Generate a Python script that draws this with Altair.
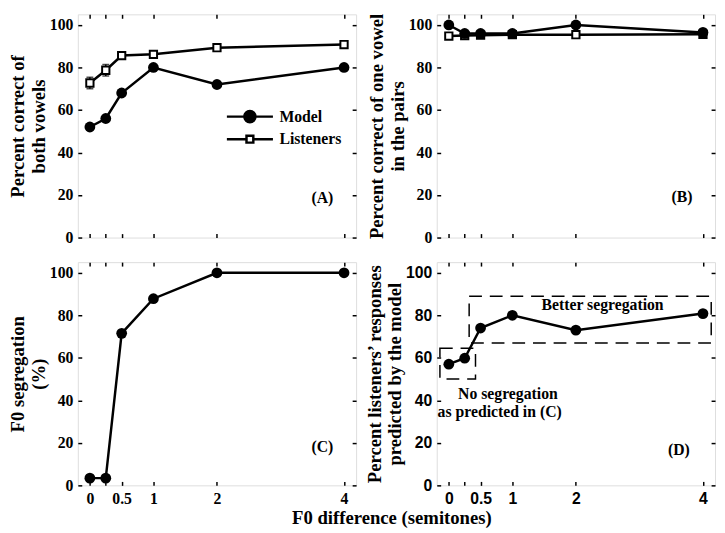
import altair as alt
import pandas as pd

# ---------------- data ----------------
f0_diff = [0, 0.25, 0.5, 1, 2, 4]
a_model = [52, 56, 68, 80, 72, 80]
a_listeners = [72.7, 78.7, 85.6, 86.2, 89.3, 90.8]
a_listeners_err = [2.7, 2.7, 1.0, 0.8, 0.8, 0.8]
b_model = [100, 96, 96, 96, 100, 96.5]
b_listeners = [94.8, 95.0, 95.2, 95.4, 95.4, 95.6]
c_segregation = [3.4, 3.4, 71.5, 87.8, 100, 100]
d_predicted = [57, 59.8, 74, 80, 73, 80.8]

panel_tags = ["(A)", "(B)", "(C)", "(D)"]
series_names = ["Model", "Listeners"]
y_ticks = [0, 20, 40, 60, 80, 100]

# annotation text and dashed boxes for panel D (data coordinates)
d_notes = ["Better segregation", "No segregation", "as predicted in (C)"]
d_note_x = [2.42, 0.93, 0.80]
d_note_y = [84.8, 43.0, 34.7]
d_box_x1 = [-0.14, 0.32]
d_box_x2 = [0.42, 4.13]
d_box_y1 = [50, 67]
d_box_y2 = [64.5, 89]
tag_x = [3.66, 3.67, 3.66, 3.62]
tag_y = [18.8, 19.0, 18.0, 16.5]

# ---------------- style ----------------
SERIF = "Liberation Serif"
SANS = "Liberation Sans"
W, H = 283, 227
XDOM = [-0.19, 4.19]
YDOM = [0, 105]
xs = alt.Scale(domain=XDOM, nice=False, zero=False)
ys = alt.Scale(domain=YDOM, nice=False, zero=False)

PATH_M = ("M-2.23,0L-0.54,0M0.54,0A0.54,0.54,0,1,1,-0.54,0"
          "A0.54,0.54,0,1,1,0.54,0ZM0.54,0L2.23,0")
PATH_L = ("M-2.23,0L-0.33,0M-0.33,-0.33L0.33,-0.33L0.33,0.33L-0.33,0.33Z"
          "M0.33,0L2.23,0")

INWARD = {"expr": "-4"}


def tick_common():
    return dict(domain=False, grid=False, ticks=True, tickSize=INWARD,
                tickColor="black", tickWidth=1.5)


def left_axis(title, font):
    return alt.Axis(orient="left", values=y_ticks, labels=True,
                    labelFont=font, labelFontSize=16, labelFontWeight="bold",
                    labelColor="black", labelPadding=9,
                    title=title, titleFont=SERIF, titleFontSize=19,
                    titleFontWeight="bold", titleColor="black", titlePadding=1,
                    titleLineHeight=21, **tick_common())


def bottom_axis(show_labels, font):
    return alt.Axis(orient="bottom", values=f0_diff, labels=show_labels,
                    format="~g",
                    labelExpr="datum.value == 0.25 ? '' : datum.label",
                    labelFont=font, labelFontSize=16, labelFontWeight="bold",
                    labelColor="black", labelPadding=9, labelFlush=False,
                    title=None, **tick_common())


def right_axis():
    return alt.Axis(orient="right", values=y_ticks, labels=False, title=None,
                    **tick_common())


def top_axis():
    return alt.Axis(orient="top", values=f0_diff, labels=False, title=None,
                    **tick_common())


def long_df(series):
    rows = []
    for name, vals in series:
        for xv, yv in zip(f0_diff, vals):
            rows.append({"x": xv, "y": yv, "series": name})
    return pd.DataFrame(rows)


def panel(df, title, show_xlabels, font, tag_idx, extra=None, square_series=None):
    base = alt.Chart(df)
    lines = base.mark_line(color="black", strokeWidth=2.5).encode(
        x=alt.X("x:Q", scale=xs, axis=bottom_axis(show_xlabels, font)),
        y=alt.Y("y:Q", scale=ys, axis=left_axis(title, font)),
        detail="series:N",
    )
    mirror = base.mark_point(opacity=0).encode(
        x=alt.X("x:Q", scale=xs, axis=top_axis()),
        y=alt.Y("y:Q", scale=ys, axis=right_axis()),
    )
    layers = [lines, mirror]
    if extra is not None:
        layers += extra
    if square_series is not None:
        layers.append(
            base.transform_filter(alt.datum.series == square_series)
            .mark_square(size=55, color="white", stroke="black", strokeWidth=2, opacity=1)
            .encode(x=alt.X("x:Q", scale=xs, axis=None),
                    y=alt.Y("y:Q", scale=ys, axis=None))
        )
    layers.append(
        base.transform_filter(alt.datum.series == "Model")
        .mark_circle(size=120, color="black", opacity=1)
        .encode(x=alt.X("x:Q", scale=xs, axis=None),
                y=alt.Y("y:Q", scale=ys, axis=None))
    )
    tag_df = pd.DataFrame({"x": [tag_x[tag_idx]], "y": [tag_y[tag_idx]],
                           "t": [panel_tags[tag_idx]]})
    layers.append(
        alt.Chart(tag_df).mark_text(font=SERIF, fontSize=16, fontWeight="bold",
                                    color="black")
        .encode(x=alt.X("x:Q", scale=xs, axis=None),
                y=alt.Y("y:Q", scale=ys, axis=None), text="t:N")
    )
    return layers


# ---- panel A ----
dfA = long_df([("Model", a_model), ("Listeners", a_listeners)])
errA = pd.DataFrame({
    "x": f0_diff,
    "lo": [v - e for v, e in zip(a_listeners, a_listeners_err)],
    "hi": [v + e for v, e in zip(a_listeners, a_listeners_err)],
})
err_layer = alt.Chart(errA).mark_errorbar(
    ticks={"size": 7, "thickness": 1.5}, rule={"strokeWidth": 1.5}, color="black"
).encode(
    x=alt.X("x:Q", scale=xs, axis=None),
    y=alt.Y("lo:Q", scale=ys, axis=None, title=None),
    y2="hi:Q",
)
leg = alt.Legend(orient="none", legendX=163, legendY=92, title=None,
                 symbolSize=441, symbolStrokeWidth=2.5, symbolStrokeColor="black",
                 labelFont=SERIF, labelFontSize=16, labelFontWeight="bold",
                 labelColor="black", labelOffset=18, padding=0, rowPadding=0,
                 symbolOpacity=1)
legend_layer = alt.Chart(dfA).transform_filter("false").mark_point(
    filled=True, strokeWidth=2.5
).encode(
    shape=alt.Shape("series:N", scale=alt.Scale(domain=series_names, range=[PATH_M, PATH_L]),
                    legend=leg),
    fill=alt.Fill("series:N", scale=alt.Scale(domain=series_names, range=["black", "white"]),
                  legend=leg),
    stroke=alt.Stroke("series:N", scale=alt.Scale(domain=series_names, range=["black", "black"]),
                      legend=leg),
)
A = alt.layer(
    *panel(dfA, ["Percent correct of", "both vowels"], False, SERIF, 0,
           extra=[err_layer], square_series="Listeners"),
    legend_layer,
).resolve_axis(x="independent", y="independent").properties(width=W, height=H)

# ---- panel B ----
dfB = long_df([("Listeners", b_listeners), ("Model", b_model)])
B = alt.layer(
    *panel(dfB, ["Percent correct of one vowel", "in the pairs"], False, SERIF, 1,
           square_series="Listeners"),
).resolve_axis(x="independent", y="independent").properties(width=W, height=H)

# ---- panel C ----
dfC = long_df([("Model", c_segregation)])
C = alt.layer(
    *panel(dfC, ["F0 segregation", "(%)"], True, SERIF, 2),
).resolve_axis(x="independent", y="independent").properties(width=W, height=H)

# ---- panel D ----
dfD = long_df([("Model", d_predicted)])
boxes = pd.DataFrame({"x1": d_box_x1, "x2": d_box_x2, "y1": d_box_y1, "y2": d_box_y2})
box_layer = alt.Chart(boxes).mark_rect(
    fillOpacity=0, stroke="black", strokeWidth=1.5, strokeDash=[13, 8]
).encode(
    x=alt.X("x1:Q", scale=xs, axis=None), x2="x2:Q",
    y=alt.Y("y1:Q", scale=ys, axis=None), y2="y2:Q",
)
notes = pd.DataFrame({"x": d_note_x, "y": d_note_y, "t": d_notes})
note_layer = alt.Chart(notes).mark_text(
    font=SERIF, fontSize=16, fontWeight="bold", color="black"
).encode(
    x=alt.X("x:Q", scale=xs, axis=None),
    y=alt.Y("y:Q", scale=ys, axis=None), text="t:N",
)
D = alt.layer(
    *panel(dfD, ["Percent listeners\u2019 responses", "predicted by the model"], True, SANS, 3,
           extra=[box_layer, note_layer]),
).resolve_axis(x="independent", y="independent").properties(width=W, height=H)

chart = alt.concat(
    A, B, C, D, columns=2, spacing={"row": 14, "column": 6}
).resolve_scale(
    shape="independent", fill="independent", stroke="independent"
).properties(
    title=alt.TitleParams("F0 difference (semitones)", orient="bottom", anchor="middle",
                          font=SERIF, fontSize=19, fontWeight="bold", color="black",
                          offset=3, dx=30),
    padding={"left": 0, "top": 0, "right": 0, "bottom": 0},
).configure_view(
    stroke="black", strokeWidth=2
).configure(background="white")

chart.save("out.html", embed_options={"renderer": "svg", "actions": False})
